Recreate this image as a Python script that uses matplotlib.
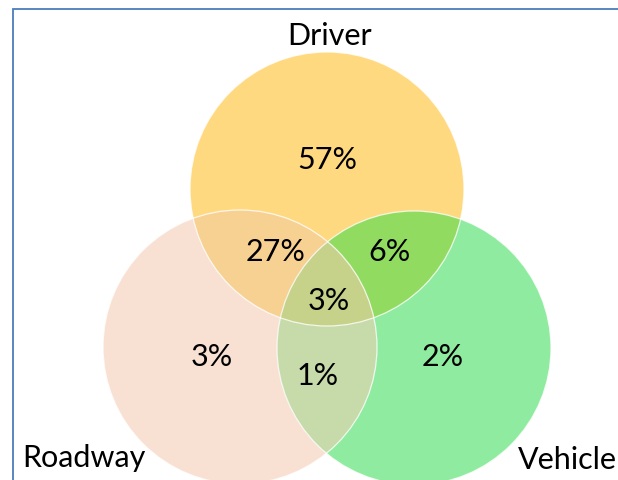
import numpy as np
import matplotlib
matplotlib.use("Agg")
import matplotlib.pyplot as plt
from matplotlib.patches import Circle, Polygon

# sets and region shares (%)
SETS = ["Driver", "Roadway", "Vehicle"]
ONLY = [57, 3, 2]                 # Driver, Roadway, Vehicle only
PAIRS = [("Driver", "Roadway", 27), ("Driver", "Vehicle", 6), ("Roadway", "Vehicle", 1)]
ALL3 = 3

FILL = {"Driver": "#FFD97F", "Roadway": "#F8E1D3", "Vehicle": "#8FEB9F"}
PAIR_FILL = {("Driver", "Roadway"): "#F7D192",
             ("Driver", "Vehicle"): "#91DC60",
             ("Roadway", "Vehicle"): "#C6DAAA"}
ALL_FILL = "#C6D18A"
FRAME = "#4A7EBB"

# layout in pixel coordinates
W, H = 618, 480
R = 137
CENTER = {"Driver": (327, 189), "Roadway": (240, 347), "Vehicle": (414, 348)}
NAME_POS = {"Driver": (330, 45, "center"), "Roadway": (22, 467, "left"),
            "Vehicle": (617, 469, "right")}
ONLY_POS = {"Driver": (327, 169), "Roadway": (212, 366), "Vehicle": (443, 366)}
PAIR_POS = {("Driver", "Roadway"): (276, 261), ("Driver", "Vehicle"): (390, 261),
            ("Roadway", "Vehicle"): (318, 385)}
ALL_POS = (329, 310)

FONT = ["Lato", "DejaVu Sans"]
FS = 22


def intersection(names, n=720):
    # convex intersection of equal circles: boundary points inside all others
    pts = []
    t = np.linspace(0, 2 * np.pi, n, endpoint=False)
    for nm in names:
        cx, cy = CENTER[nm]
        p = np.c_[cx + R * np.cos(t), cy + R * np.sin(t)]
        ok = np.ones(len(p), bool)
        for other in names:
            if other == nm:
                continue
            ox, oy = CENTER[other]
            ok &= (p[:, 0] - ox) ** 2 + (p[:, 1] - oy) ** 2 <= R ** 2 + 1e-6
        pts.append(p[ok])
    pts = np.vstack(pts)
    c = pts.mean(axis=0)
    order = np.argsort(np.arctan2(pts[:, 1] - c[1], pts[:, 0] - c[0]))
    return pts[order]


fig = plt.figure(figsize=(W / 100, H / 100), dpi=100)
ax = fig.add_axes([0, 0, 1, 1])
ax.set_xlim(0, W)
ax.set_ylim(H, 0)
ax.axis("off")

for nm in SETS:
    ax.add_patch(Circle(CENTER[nm], R, facecolor=FILL[nm], edgecolor="none", zorder=1))
for a, b, _ in PAIRS:
    ax.add_patch(Polygon(intersection([a, b]), closed=True,
                         facecolor=PAIR_FILL[(a, b)], edgecolor="none", zorder=2))
ax.add_patch(Polygon(intersection(SETS), closed=True,
                     facecolor=ALL_FILL, edgecolor="none", zorder=3))
for nm in SETS:
    ax.add_patch(Circle(CENTER[nm], R, facecolor="none", edgecolor="white",
                        lw=0.9, alpha=0.8, zorder=4))

for nm, v in zip(SETS, ONLY):
    x, y = ONLY_POS[nm]
    ax.text(x, y, f"{v}%", ha="center", va="baseline", fontsize=FS, family=FONT, zorder=5)
    nx, ny, ha = NAME_POS[nm]
    ax.text(nx, ny, nm, ha=ha, va="baseline", fontsize=FS, family=FONT, zorder=5)
for a, b, v in PAIRS:
    x, y = PAIR_POS[(a, b)]
    ax.text(x, y, f"{v}%", ha="center", va="baseline", fontsize=FS, family=FONT, zorder=5)
ax.text(*ALL_POS, f"{ALL3}%", ha="center", va="baseline", fontsize=FS, family=FONT, zorder=5)

# slide frame (top and left edges)
ax.plot([12.5, 12.5, W], [H, 8.5, 8.5], color=FRAME, lw=1.3, solid_joinstyle="miter", zorder=6)

fig.savefig("out.png", dpi=100, facecolor="white")
